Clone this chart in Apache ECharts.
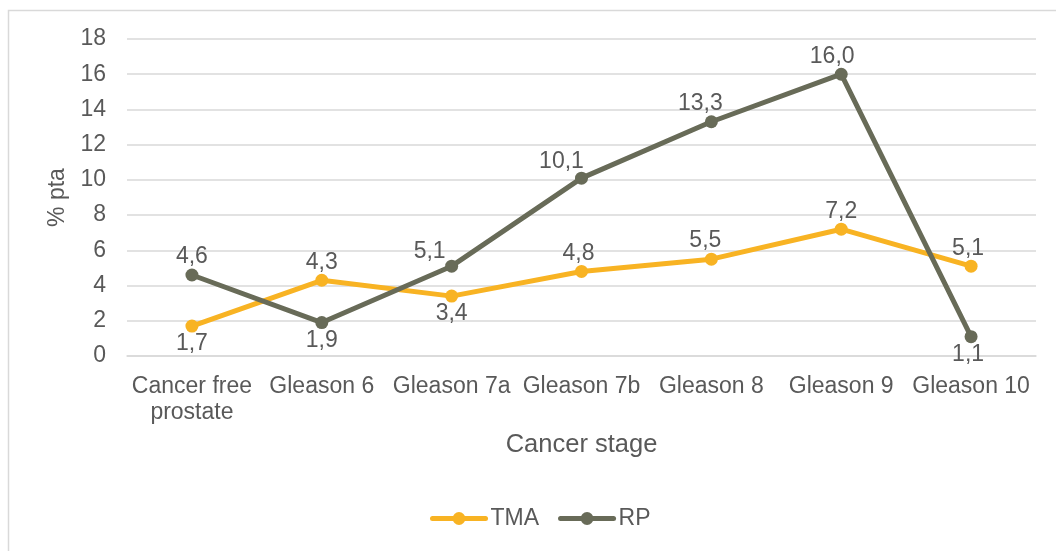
<!DOCTYPE html>
<html>
<head>
<meta charset="utf-8">
<script src="https://cdn.jsdelivr.net/npm/echarts@6/dist/echarts.min.js"></script>
<style>
  html, body { margin: 0; padding: 0; background: #ffffff; }
  #chart { width: 1056px; height: 551px; }
</style>
</head>
<body>
<div id="chart"></div>
<script>
// Cancer stages along the x axis
const categories = ['Cancer free\nprostate', 'Gleason 6', 'Gleason 7a', 'Gleason 7b', 'Gleason 8', 'Gleason 9', 'Gleason 10'];
// Percentage of pta per stage
const tmaValues = [1.7, 4.3, 3.4, 4.8, 5.5, 7.2, 5.1];
const rpValues = [4.6, 1.9, 5.1, 10.1, 13.3, 16.0, 1.1];
const yTicks = { min: 0, max: 18, interval: 2 };

const TEXT = '#595959';
const FONT = 'Liberation Sans, Arial, sans-serif';
const TMA_COLOR = '#F8B323';
const RP_COLOR = '#686B58';

// Where each value label sits relative to its point
const tmaLabelPlace = ['bottom', 'top', 'bottom', 'top', 'top', 'top', 'top'];
const rpLabelPlace = ['top', 'bottom', 'top', 'top', 'top', 'top', 'bottom'];
const rpLabelShift = [[0, 0], [0, 0], [-22, 3], [-20, 2], [-11, 0], [-9, 0], [-3, 0]];
const tmaLabelShift = [[0, 0], [0, 0], [0, 0], [-3, 0], [-6, 0], [0, 0], [-3, 0]];

function fmt(v) { return v.toFixed(1).replace('.', ','); }

function buildData(values, places, shifts) {
  return values.map((v, i) => ({
    value: v,
    label: { position: places[i], offset: shifts[i] }
  }));
}

function lineSeries(name, color, values, places, shifts) {
  return {
    name: name,
    type: 'line',
    data: buildData(values, places, shifts),
    symbol: 'circle',
    symbolSize: 13,
    lineStyle: { color: color, width: 5, cap: 'round', join: 'round' },
    itemStyle: { color: color },
    label: {
      show: true,
      distance: 0,
      color: TEXT,
      fontFamily: FONT,
      fontSize: 23,
      formatter: p => fmt(p.value)
    },
    emphasis: { disabled: true },
    animation: false
  };
}

const chart = echarts.init(document.getElementById('chart'), null, { renderer: 'canvas' });
chart.setOption({
  backgroundColor: '#ffffff',
  animation: false,
  graphic: [{
    type: 'rect',
    shape: { x: 8.5, y: 10.5, width: 1100, height: 600 },
    style: { fill: 'none', stroke: '#D9D9D9', lineWidth: 1.5 },
    silent: true,
    z: -1
  }],
  grid: { left: 127, right: 20, top: 39, bottom: 195, containLabel: false },
  xAxis: {
    type: 'category',
    data: categories,
    boundaryGap: true,
    name: 'Cancer stage',
    nameLocation: 'middle',
    nameGap: 76,
    nameTextStyle: { color: TEXT, fontFamily: FONT, fontSize: 25.5 },
    axisLine: { show: true, lineStyle: { color: '#D9D9D9', width: 1.5 } },
    axisTick: { show: false },
    axisLabel: {
      color: TEXT, fontFamily: FONT, fontSize: 23, margin: 18,
      lineHeight: 26, interval: 0
    },
    splitLine: { show: false }
  },
  yAxis: {
    type: 'value',
    min: yTicks.min,
    max: yTicks.max,
    interval: yTicks.interval,
    name: '% pta',
    nameLocation: 'middle',
    nameGap: 54,
    nameTextStyle: { color: TEXT, fontFamily: FONT, fontSize: 23 },
    axisLine: { show: false },
    axisTick: { show: false },
    axisLabel: { color: TEXT, fontFamily: FONT, fontSize: 23, margin: 21 },
    splitLine: { lineStyle: { color: '#D9D9D9', width: 1.5 } }
  },
  legend: {
    left: 430,
    top: 507,
    padding: 0,
    itemWidth: 53,
    itemHeight: 16,
    itemGap: 19,
    itemStyle: { borderWidth: 0 },
    lineStyle: { width: 5, cap: 'round' },
    textStyle: { color: TEXT, fontFamily: FONT, fontSize: 23 },
    data: ['TMA', 'RP']
  },
  series: [
    lineSeries('TMA', TMA_COLOR, tmaValues, tmaLabelPlace, tmaLabelShift),
    lineSeries('RP', RP_COLOR, rpValues, rpLabelPlace, rpLabelShift)
  ]
});
</script>
</body>
</html>
